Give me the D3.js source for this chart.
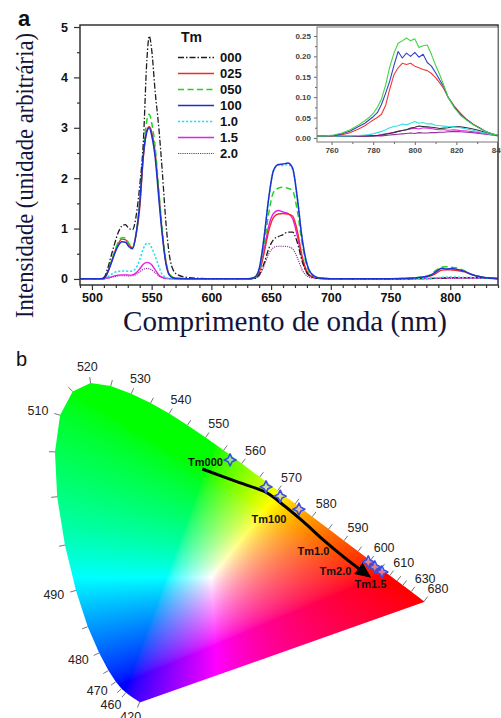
<!DOCTYPE html>
<html><head><meta charset="utf-8">
<script src="https://cdn.jsdelivr.net/npm/d3@7"></script>
<style>body{margin:0;background:#fff}svg{display:block}</style>
</head><body>
<svg id="chart" width="501" height="718"></svg>
<script>
// ---------------- Panel a data ----------------
const wavelengths = [490,505,510,513,516,519,522,525,528,531,534,537,540,543,546,548,550,553,556,559,562,565,568,572,580,600,630,636,640,644,648,652,656,660,664,668,672,676,680,684,690,700,750,765,775,782,788,793,797,801,806,812,818,825,832,840];
const seriesNames = ["000","025","050","100","1.0","1.5","2.0"];
const s000 = [0.005,0.005,0.03,0.2,0.45,0.7,0.92,1.05,1.08,1.0,0.98,1.25,1.85,2.7,4.35,4.82,4.55,3.7,3.0,2.1,1.1,0.45,0.18,0.08,0.03,0.005,0.005,0.01,0.08,0.3,0.6,0.78,0.84,0.88,0.93,0.93,0.72,0.35,0.12,0.04,0.015,0.005,0.003,0.004,0.005,0.008,0.012,0.018,0.022,0.027,0.027,0.024,0.027,0.025,0.016,0.006];
const s025 = [0.003,0.003,0.01,0.13,0.32,0.53,0.7,0.79,0.78,0.68,0.62,0.88,1.4,2.4,2.95,3.02,2.92,2.5,1.7,0.9,0.32,0.08,0.03,0.01,0.005,0.003,0.003,0.02,0.13,0.5,0.95,1.22,1.29,1.3,1.29,1.25,0.95,0.45,0.15,0.05,0.015,0.005,0.003,0.01,0.027,0.05,0.11,0.175,0.183,0.178,0.168,0.14,0.085,0.045,0.02,0.008];
const s050 = [0.003,0.003,0.01,0.13,0.33,0.55,0.73,0.82,0.82,0.7,0.63,0.9,1.5,2.5,3.15,3.27,3.1,2.6,1.75,0.95,0.35,0.09,0.03,0.01,0.005,0.003,0.003,0.03,0.18,0.65,1.3,1.72,1.8,1.82,1.8,1.75,1.35,0.7,0.25,0.08,0.02,0.005,0.003,0.012,0.035,0.07,0.17,0.235,0.243,0.232,0.215,0.16,0.09,0.045,0.02,0.008];
const s100 = [0.003,0.003,0.01,0.12,0.3,0.5,0.66,0.74,0.73,0.64,0.6,0.9,1.5,2.45,2.92,3.0,2.85,2.4,1.6,0.85,0.3,0.07,0.02,0.008,0.005,0.003,0.003,0.03,0.2,0.8,1.6,2.15,2.27,2.28,2.3,2.2,1.6,0.8,0.3,0.1,0.02,0.005,0.003,0.012,0.033,0.06,0.14,0.21,0.2,0.205,0.19,0.15,0.09,0.045,0.02,0.008];
const s1_0 = [0.003,0.003,0.006,0.04,0.09,0.13,0.15,0.16,0.16,0.15,0.16,0.22,0.38,0.6,0.71,0.7,0.62,0.45,0.25,0.08,0.03,0.01,0.005,0.003,0.003,0.003,0.003,0.03,0.2,0.8,1.6,2.15,2.26,2.25,2.27,2.18,1.6,0.8,0.3,0.1,0.02,0.005,0.003,0.004,0.008,0.014,0.025,0.032,0.036,0.04,0.036,0.03,0.027,0.021,0.014,0.006];
const s1_5 = [0.003,0.003,0.005,0.02,0.04,0.06,0.075,0.08,0.08,0.075,0.08,0.12,0.2,0.29,0.33,0.32,0.28,0.18,0.08,0.03,0.01,0.005,0.003,0.003,0.003,0.003,0.003,0.02,0.15,0.55,1.05,1.3,1.36,1.33,1.3,1.2,0.85,0.4,0.12,0.04,0.01,0.004,0.003,0.004,0.006,0.01,0.015,0.02,0.024,0.025,0.025,0.021,0.02,0.017,0.013,0.005];
const s2_0 = [0.003,0.003,0.005,0.015,0.03,0.045,0.06,0.065,0.065,0.06,0.065,0.09,0.14,0.19,0.21,0.2,0.18,0.12,0.06,0.02,0.01,0.004,0.003,0.003,0.003,0.003,0.003,0.01,0.06,0.25,0.5,0.62,0.65,0.65,0.64,0.6,0.42,0.18,0.06,0.02,0.008,0.004,0.003,0.003,0.005,0.007,0.009,0.011,0.012,0.012,0.012,0.013,0.015,0.013,0.01,0.005];
const xTicks = [500,550,600,650,700,750,800];
const yTicks = [0,1,2,3,4,5];

// inset data
const insetWl = [753,757,761,765,769,773,776,778,780,782,784,786,788,790,792,794,796,798,800,802,804,806,808,810,812,814,816,819,822,825,828,831,834,837,840];
const i000 = [0.004,0.004,0.004,0.004,0.004,0.005,0.005,0.005,0.005,0.006,0.007,0.009,0.011,0.013,0.016,0.018,0.02,0.024,0.026,0.029,0.028,0.027,0.026,0.025,0.023,0.024,0.025,0.028,0.027,0.025,0.022,0.018,0.013,0.009,0.006];
const i025 = [0.005,0.005,0.005,0.008,0.013,0.022,0.03,0.037,0.044,0.05,0.058,0.08,0.12,0.155,0.172,0.183,0.18,0.183,0.176,0.172,0.168,0.165,0.158,0.148,0.135,0.12,0.1,0.078,0.06,0.045,0.034,0.025,0.016,0.01,0.006];
const i050 = [0.005,0.005,0.007,0.012,0.02,0.032,0.042,0.05,0.06,0.075,0.095,0.13,0.175,0.208,0.232,0.238,0.245,0.238,0.243,0.222,0.226,0.228,0.205,0.178,0.155,0.128,0.1,0.074,0.055,0.043,0.033,0.024,0.016,0.01,0.007];
const i100 = [0.005,0.005,0.006,0.01,0.017,0.028,0.036,0.044,0.052,0.062,0.082,0.11,0.14,0.178,0.212,0.196,0.208,0.2,0.21,0.198,0.205,0.185,0.176,0.16,0.142,0.125,0.1,0.076,0.058,0.045,0.033,0.025,0.016,0.01,0.006];
const i1_0 = [0.004,0.004,0.004,0.005,0.005,0.006,0.007,0.008,0.01,0.013,0.016,0.02,0.025,0.028,0.03,0.034,0.032,0.036,0.04,0.036,0.038,0.034,0.035,0.031,0.03,0.029,0.028,0.027,0.025,0.022,0.019,0.015,0.012,0.008,0.006];
const i1_5 = [0.004,0.004,0.004,0.004,0.004,0.005,0.005,0.005,0.006,0.006,0.008,0.01,0.012,0.014,0.016,0.018,0.02,0.022,0.024,0.022,0.025,0.024,0.023,0.021,0.02,0.02,0.019,0.02,0.018,0.017,0.015,0.013,0.011,0.008,0.006];
const i2_0 = [0.004,0.004,0.004,0.004,0.004,0.004,0.004,0.005,0.005,0.005,0.005,0.006,0.007,0.008,0.009,0.01,0.011,0.012,0.011,0.013,0.012,0.012,0.013,0.013,0.014,0.014,0.015,0.016,0.015,0.014,0.013,0.011,0.009,0.007,0.005];
const insetXTicks = [760,780,800,820,840];
const insetYTicks = [0,0.05,0.10,0.15,0.20,0.25];

// ---------------- Panel b data (CIE 1931 spectral locus) ----------------
const cieWl = [380,385,390,395,400,405,410,415,420,425,430,435,440,445,450,455,460,465,470,475,480,485,490,495,500,505,510,515,520,525,530,535,540,545,550,555,560,565,570,575,580,585,590,595,600,605,610,615,620,625,630,635,640,645,650,655,660,665,670,675,680,685,690,695,700];
const cieX = [0.1741,0.1740,0.1738,0.1736,0.1733,0.1730,0.1726,0.1721,0.1714,0.1703,0.1689,0.1669,0.1644,0.1611,0.1566,0.1510,0.1440,0.1355,0.1241,0.1096,0.0913,0.0687,0.0454,0.0235,0.0082,0.0039,0.0139,0.0389,0.0743,0.1142,0.1547,0.1929,0.2296,0.2658,0.3016,0.3373,0.3731,0.4087,0.4441,0.4788,0.5125,0.5448,0.5752,0.6029,0.6270,0.6482,0.6658,0.6801,0.6915,0.7006,0.7079,0.7140,0.7190,0.7230,0.7260,0.7283,0.7300,0.7311,0.7320,0.7327,0.7334,0.7340,0.7344,0.7346,0.7347];
const cieY = [0.0050,0.0050,0.0049,0.0049,0.0048,0.0048,0.0048,0.0048,0.0051,0.0058,0.0069,0.0086,0.0109,0.0138,0.0177,0.0227,0.0297,0.0399,0.0578,0.0868,0.1327,0.2007,0.2950,0.4127,0.5384,0.6548,0.7502,0.8120,0.8338,0.8262,0.8059,0.7816,0.7543,0.7243,0.6923,0.6589,0.6245,0.5896,0.5547,0.5202,0.4866,0.4544,0.4242,0.3965,0.3725,0.3514,0.3340,0.3197,0.3083,0.2993,0.2920,0.2859,0.2809,0.2770,0.2740,0.2717,0.2700,0.2689,0.2680,0.2673,0.2666,0.2660,0.2656,0.2654,0.2653];
const locusTicks = [420,460,465,470,475,480,485,490,495,500,505,510,515,520,525,530,535,540,545,550,555,560,565,570,575,580,585,590,595,600,605,610,615,620,630,680];
const locusLabels = [420,460,470,480,490,510,520,530,540,550,560,570,580,590,600,610,630,680];
const sampleX = [0.350,0.421,0.449,0.486,0.623,0.636,0.650];
const sampleY = [0.634,0.564,0.540,0.506,0.369,0.356,0.343];
const annotText = ["Tm000","Tm100","Tm1.0","Tm2.0","Tm1.5"];
const annotX = [0.3014,0.4269,0.5148,0.5583,0.6275];
const annotY = [0.6273,0.4805,0.3974,0.3455,0.3117];
const arrowX = [0.2951,0.3630,0.4223,0.4551,0.4947,0.5342,0.5737,0.6067];
const arrowY = [0.6104,0.5774,0.5488,0.5169,0.4735,0.4260,0.3826,0.3494];

// ---------------- Drawing ----------------
const SANS = "Arial, 'Liberation Sans', Helvetica, sans-serif";
const SERIF = "'Times New Roman', 'Liberation Serif', Times, serif";
const svg = d3.select('#chart');
const defs = svg.append('defs');

// ===== Panel a =====
const xA = d3.scaleLinear().domain([490, 840]).range([80, 498]);
const yA = d3.scaleLinear().domain([-0.12, 5.04]).range([285, 25]);
defs.append('clipPath').attr('id','clipA').append('rect')
  .attr('x',80).attr('y',25).attr('width',418).attr('height',260);

const mainValues = [s000,s025,s050,s100,s1_0,s1_5,s2_0];
const insetValues = [i000,i025,i050,i100,i1_0,i1_5,i2_0];
const styles = {
  "000": {c:'#1e1e1e', dash:'6,2,1.5,2', w:1.3},
  "025": {c:'#f22a2a', dash:null, w:1.4},
  "050": {c:'#22d322', dash:'6,3.5', w:1.5},
  "100": {c:'#1f2fd0', dash:null, w:1.5},
  "1.0": {c:'#1fe0e8', dash:'2.2,1.8', w:1.5},
  "1.5": {c:'#e81ee8', dash:null, w:1.4},
  "2.0": {c:'#8e2c9c', dash:'1.2,1', w:1.1}
};
const drawOrder = ["2.0","1.5","025","050","000","1.0","100"];

const lineA = d3.line().x((d,i)=>xA(wavelengths[i])).y(d=>yA(d)).curve(d3.curveMonotoneX);
const gLines = svg.append('g').attr('clip-path','url(#clipA)');
drawOrder.forEach(n => {
  const k = seriesNames.indexOf(n), st = styles[n];
  gLines.append('path').attr('d', lineA(mainValues[k]))
    .attr('fill','none').attr('stroke',st.c).attr('stroke-width',st.w)
    .attr('stroke-dasharray',st.dash).attr('stroke-linejoin','round');
});

// axes
const gxMinor = svg.append('g').attr('transform','translate(0,285)')
  .call(d3.axisBottom(xA).tickValues(d3.range(490,841,10).filter(v=>v%50!==0)).tickSize(3).tickFormat(''));
const gx = svg.append('g').attr('transform','translate(0,285)')
  .call(d3.axisBottom(xA).tickValues(xTicks).tickSize(5).tickPadding(3).tickFormat(d3.format('d')));
const gyMinor = svg.append('g').attr('transform','translate(80,0)')
  .call(d3.axisLeft(yA).tickValues([0.5,1.5,2.5,3.5,4.5]).tickSize(3).tickFormat(''));
const gy = svg.append('g').attr('transform','translate(80,0)')
  .call(d3.axisLeft(yA).tickValues(yTicks).tickSize(6).tickPadding(6).tickFormat(d3.format('d')));
[gx,gxMinor,gy,gyMinor].forEach(g => {
  g.select('.domain').remove();
  g.selectAll('line').attr('stroke','#333').attr('stroke-width',1.2);
  g.selectAll('text').attr('font-family',SANS).attr('font-size',12.5).attr('font-weight','bold').attr('fill','#111');
});
svg.append('rect').attr('x',80).attr('y',25).attr('width',418).attr('height',260)
  .attr('fill','none').attr('stroke','#333').attr('stroke-width',1.5);

// legend
const leg = svg.append('g');
leg.append('text').attr('x',181).attr('y',42).text('Tm')
  .attr('font-family',SANS).attr('font-size',14).attr('font-weight','bold').attr('fill','#111');
seriesNames.forEach((n,i) => {
  const yy = 57.5 + i*16, st = styles[n];
  leg.append('line').attr('x1',178).attr('x2',214).attr('y1',yy).attr('y2',yy)
    .attr('stroke',st.c).attr('stroke-width',st.w).attr('stroke-dasharray',st.dash);
  leg.append('text').attr('x',220).attr('y',yy).attr('dy','0.36em').text(n)
    .attr('font-family',SANS).attr('font-size',13).attr('font-weight','bold').attr('fill','#111');
});

// inset
const xI = d3.scaleLinear().domain([753, 840]).range([317, 498]);
const yI = d3.scaleLinear().domain([-0.01, 0.272]).range([142, 27]);
svg.append('rect').attr('x',317).attr('y',27).attr('width',181).attr('height',115).attr('fill','#fff');
defs.append('clipPath').attr('id','clipI').append('rect')
  .attr('x',317).attr('y',27).attr('width',181).attr('height',115);
const lineI = d3.line().x((d,i)=>xI(insetWl[i])).y(d=>yI(d));
const gI = svg.append('g').attr('clip-path','url(#clipI)');
const insetColors = {"000":'#333333',"025":'#ee3a3a',"050":'#3fd63f',"100":'#3340cc',"1.0":'#2ee0e6',"1.5":'#dd2add',"2.0":'#8e3399'};
["2.0","1.5","000","1.0","025","100","050"].forEach(n => {
  const k = seriesNames.indexOf(n);
  gI.append('path').attr('d', lineI(insetValues[k])).attr('fill','none')
    .attr('stroke',insetColors[n]).attr('stroke-width',1.1).attr('stroke-linejoin','round');
});
const gIx = svg.append('g').attr('transform','translate(0,142)')
  .call(d3.axisBottom(xI).tickValues(insetXTicks).tickSize(3).tickPadding(2).tickFormat(d3.format('d')));
const gIxm = svg.append('g').attr('transform','translate(0,142)')
  .call(d3.axisBottom(xI).tickValues([770,790,810,830]).tickSize(2).tickFormat(''));
const gIy = svg.append('g').attr('transform','translate(317,0)')
  .call(d3.axisLeft(yI).tickValues(insetYTicks).tickSize(3).tickPadding(3).tickFormat(d3.format('.2f')));
const gIym = svg.append('g').attr('transform','translate(317,0)')
  .call(d3.axisLeft(yI).tickValues([0.025,0.075,0.125,0.175,0.225]).tickSize(2).tickFormat(''));
[gIx,gIxm,gIy,gIym].forEach(g => {
  g.select('.domain').remove();
  g.selectAll('line').attr('stroke','#666');
  g.selectAll('text').attr('font-family',SANS).attr('font-size',8).attr('font-weight','bold').attr('fill','#444');
});
svg.append('rect').attr('x',317).attr('y',27).attr('width',181).attr('height',115)
  .attr('fill','none').attr('stroke','#777').attr('stroke-width',1);

// titles
svg.append('text').attr('transform','translate(33,175.5) rotate(-90)')
  .attr('text-anchor','middle').attr('font-family',SERIF).attr('font-size',25)
  .attr('fill','#14143a').attr('textLength',285).attr('lengthAdjust','spacingAndGlyphs')
  .text('Intensidade (unidade arbitrária)');
svg.append('text').attr('x',285).attr('y',331)
  .attr('text-anchor','middle').attr('font-family',SERIF).attr('font-size',29)
  .attr('fill','#14143a').attr('textLength',324).attr('lengthAdjust','spacingAndGlyphs')
  .text('Comprimento de onda (nm)');
svg.append('text').attr('x',18).attr('y',26).text('a')
  .attr('font-family',SANS).attr('font-size',22).attr('font-weight','bold').attr('fill','#111');
svg.append('text').attr('x',16).attr('y',366).text('b')
  .attr('font-family',SANS).attr('font-size',20).attr('fill','#111');

// ===== Panel b =====
const cx = d3.scaleLinear().domain([0, 0.8]).range([53, 457.8]);
const cy = d3.scaleLinear().domain([0, 0.9]).range([704, 357.5]);
const locusPts = cieWl.map((w,i)=>[cx(cieX[i]), cy(cieY[i])]);
defs.append('clipPath').attr('id','clipCIE').append('path')
  .attr('d', d3.line()(locusPts) + 'Z');

// colour field
const bx0 = 45, by0 = 370, bw = 400, bh = 340;
const cnv = document.createElement('canvas'); cnv.width = bw; cnv.height = bh;
const ctx = cnv.getContext('2d');
const img = ctx.createImageData(bw, bh);
const gam = c => Math.pow(c, 1/1.5);
for (let j = 0; j < bh; j++) {
  for (let i = 0; i < bw; i++) {
    const xx = cx.invert(bx0 + i + 0.5);
    const yy = Math.max(cy.invert(by0 + j + 0.5), 0.003);
    const X = xx/yy, Y = 1, Z = (1 - xx - yy)/yy;
    let r = 3.2406*X - 1.5372*Y - 0.4986*Z;
    let g = -0.9689*X + 1.8758*Y + 0.0415*Z;
    let b = 0.0557*X - 0.2040*Y + 1.0570*Z;
    r = Math.max(r,0); g = Math.max(g,0); b = Math.max(b,0);
    const m = Math.max(r,g,b) || 1;
    const o = (j*bw + i)*4;
    img.data[o] = Math.round(255*gam(r/m));
    img.data[o+1] = Math.round(255*gam(g/m));
    img.data[o+2] = Math.round(255*gam(b/m));
    img.data[o+3] = 255;
  }
}
ctx.putImageData(img, 0, 0);
svg.append('image').attr('x',bx0).attr('y',by0).attr('width',bw).attr('height',bh)
  .attr('href', cnv.toDataURL()).attr('clip-path','url(#clipCIE)');

// wavelength ticks and labels
const gT = svg.append('g');
locusTicks.forEach(w => {
  const k = cieWl.indexOf(w);
  const p = locusPts[k];
  const a = locusPts[Math.max(k-1,0)], c2 = locusPts[Math.min(k+1,locusPts.length-1)];
  let dx = c2[0]-a[0], dy = c2[1]-a[1];
  let nx = dy, ny = -dx; const L = Math.hypot(nx,ny) || 1; nx/=L; ny/=L;
  gT.append('line').attr('x1',p[0]).attr('y1',p[1]).attr('x2',p[0]+nx*6).attr('y2',p[1]+ny*6)
    .attr('stroke','#777').attr('stroke-width',1);
  if (locusLabels.includes(w)) {
    gT.append('text').attr('x', p[0] + nx*11 + nx*12).attr('y', p[1] + ny*11 + ny*5)
      .attr('text-anchor','middle').attr('dominant-baseline','central')
      .attr('font-family',SANS).attr('font-size',12.5).attr('fill','#222').text(w);
  }
});

// arrow
defs.append('marker').attr('id','ahead').attr('markerUnits','userSpaceOnUse')
  .attr('markerWidth',17).attr('markerHeight',14).attr('refX',2).attr('refY',7).attr('orient','auto')
  .append('path').attr('d','M0,0 L16,7 L0,14 Z').attr('fill','#000');
svg.append('path')
  .attr('d', d3.line().curve(d3.curveCatmullRom)(arrowX.map((v,i)=>[cx(v), cy(arrowY[i])])))
  .attr('fill','none').attr('stroke','#000').attr('stroke-width',3).attr('marker-end','url(#ahead)');

// sample markers (4-point stars)
const star = r => { const q = r*0.32; return `M0,${-r}L${q},${-q}L${r},0L${q},${q}L0,${r}L${-q},${q}L${-r},0L${-q},${-q}Z`; };
sampleX.forEach((v,i) => {
  svg.append('path').attr('d', star(6)).attr('transform',`translate(${cx(v)},${cy(sampleY[i])})`)
    .attr('fill','rgba(200,210,255,0.55)').attr('stroke','#3a4ee6').attr('stroke-width',1.6)
    .attr('stroke-linejoin','round');
});

// annotations
annotText.forEach((t,i) => {
  svg.append('text').attr('x',cx(annotX[i])).attr('y',cy(annotY[i]))
    .attr('text-anchor','middle').attr('dominant-baseline','central')
    .attr('font-family',SANS).attr('font-size',11).attr('font-weight','bold').attr('fill','#111').text(t);
});
</script>
</body></html>
